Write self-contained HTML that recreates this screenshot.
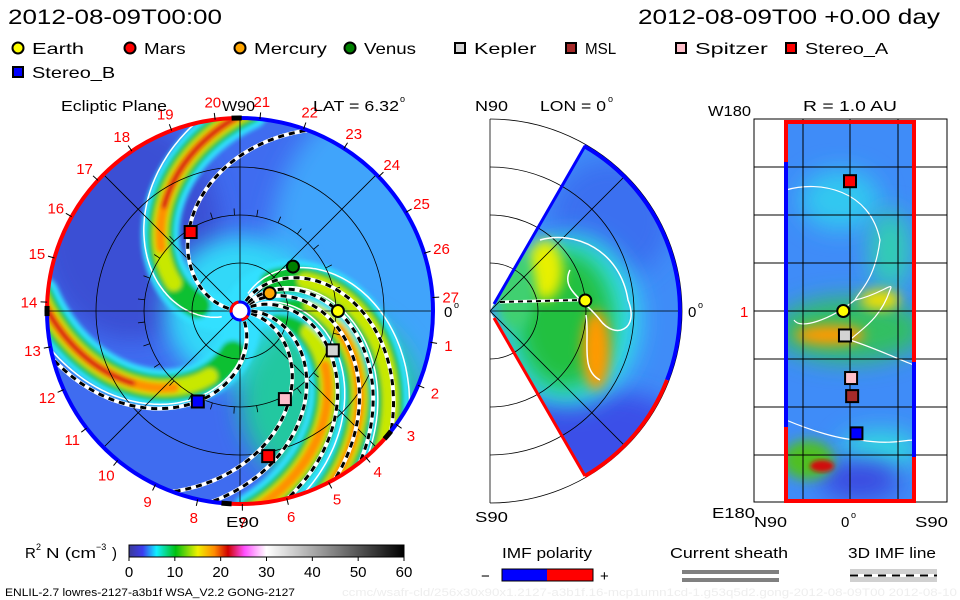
<!DOCTYPE html>
<html><head><meta charset="utf-8">
<style>
html,body{margin:0;padding:0;background:#fff;}
svg{display:block;font-family:"Liberation Sans",sans-serif;}
</style></head>
<body>
<svg id="root" width="960" height="600" viewBox="0 0 960 600" xmlns="http://www.w3.org/2000/svg">
<defs>
  <clipPath id="discClip"><circle cx="240" cy="311" r="192"/></clipPath>
  <clipPath id="wedgeClip"><path d="M490,311 L585,146.5 A190,190 0 0 1 585,475.5 Z"/></clipPath>
  <clipPath id="rectClip"><rect x="786" y="122" width="128" height="379"/></clipPath>
  <filter id="blur2" x="-20%" y="-20%" width="140%" height="140%"><feGaussianBlur stdDeviation="2"/></filter>
  <filter id="blur6" x="-50%" y="-50%" width="200%" height="200%"><feGaussianBlur stdDeviation="6"/></filter>
  <filter id="blur12" x="-50%" y="-50%" width="200%" height="200%"><feGaussianBlur stdDeviation="12"/></filter>
  <linearGradient id="cmap" x1="0" x2="1" y1="0" y2="0">
    <stop offset="0" stop-color="#3a3a98"/>
    <stop offset="0.05" stop-color="#3c3cf0"/>
    <stop offset="0.1" stop-color="#10f0ff"/>
    <stop offset="0.17" stop-color="#00c010"/>
    <stop offset="0.25" stop-color="#f0f000"/>
    <stop offset="0.31" stop-color="#ff8c00"/>
    <stop offset="0.36" stop-color="#d00000"/>
    <stop offset="0.42" stop-color="#ff50ff"/>
    <stop offset="0.47" stop-color="#ffc0ff"/>
    <stop offset="0.5" stop-color="#ffffff"/>
    <stop offset="1" stop-color="#000000"/>
  </linearGradient>
</defs>
<g id="left-panel"></g>
<g id="mid-panel"></g>
<g id="right-panel"></g>
<g id="texts"></g>
</svg>
<script>
// ---- data ----
const planetNames = ["Earth","Mars","Mercury","Venus","Kepler","MSL","Spitzer","Stereo_A","Stereo_B"];
const planetR     = [1.02, 1.54, 0.36, 0.72, 1.05, 1.54, 1.03, 0.97, 1.04];
const planetLon   = [0, -79, 31, 40, -23, -80, -63, 122, -115];
const planetLat   = [6.3, 0, 0, 0, 4.7, -2, -1, 0, -6];
const planetColor = ["#ffff00","#ff0000","#ffa500","#008000","#d3d3d3","#a52a2a","#ffc0cb","#ff0000","#0000ff"];
const planetShape = ["c","s","c","c","s","s","s","s","s"];
const legendShape = ["c","c","c","c","s","s","s","s","s"];
const bandEdge    = [92, 180, 278, 300, 320];
const bandPeak    = [4, 4, 3, 3, 2];
const imfEdge     = [70, 195, 250, 262, 285, 300, 309, 322];
const cbarTicks   = [0, 10, 20, 30, 40, 50, 60];
const dayLabels   = [1,2,3,4,5,6,7,8,9,10,11,12,13,14,15,16,17,18,19,20,21,22,23,24,25,26,27];

const NS="http://www.w3.org/2000/svg";
function mk(tag, attrs, parent){const e=document.createElementNS(NS,tag);for(const k in attrs)e.setAttribute(k,attrs[k]);if(parent)parent.appendChild(e);return e;}
function txt(parent,x,y,s,size,fill,anchor,len){const t=mk("text",{x:x,y:y,"font-size":size,fill:fill||"#000","text-anchor":anchor||"start"},parent);if(len){t.setAttribute("textLength",len);t.setAttribute("lengthAdjust","spacingAndGlyphs");}t.textContent=s;return t;}

// ---- left panel: ecliptic ----
const CX=240, CY=311, PX=96, K=52;
function lx(r,deg){return CX + r*PX*Math.cos(deg*Math.PI/180);}
function ly(r,deg){return CY - r*PX*Math.sin(deg*Math.PI/180);}
function spiral(edge,r1,r2){let d="";for(let r=r1;r<=r2+1e-6;r+=0.02){const p=edge+K*(2-r);d+=(d?"L":"M")+lx(r,p).toFixed(1)+","+ly(r,p).toFixed(1);}return d;}

const L=document.getElementById("left-panel");
const disc=mk("g",{"clip-path":"url(#discClip)"},L);


mk("circle",{cx:CX,cy:CY,r:192,fill:"#3f6cf0"},disc);
mk("ellipse",{cx:380,cy:250,rx:110,ry:150,fill:"#40a4fb",filter:"url(#blur12)"},disc);
mk("ellipse",{cx:130,cy:230,rx:90,ry:110,fill:"#3a4fd4",filter:"url(#blur12)"},disc);
mk("circle",{cx:CX,cy:CY,r:75,fill:"#30d8f8",filter:"url(#blur12)"},disc);
mk("ellipse",{cx:330,cy:400,rx:90,ry:90,fill:"#20c8a0",filter:"url(#blur12)"},disc);
const bandG=mk("g",{filter:"url(#blur2)",fill:"none","stroke-linecap":"round"},disc);
const layerCol=["#30e0ff","#10c030","#c8e800","#ff9000","#d81010"];
const layerW=[38,26,16,10,6];
bandEdge.forEach((e,i)=>{
  for(let l=0;l<=bandPeak[i];l++){
    const r1=0.15+l*0.3, r2=2.1;
    const p=mk("path",{d:spiral(e,r1,r2),stroke:layerCol[l],"stroke-width":layerW[l]},bandG);
    
    
  }
});
// white contour lines
bandEdge.forEach((e,i)=>{
  const p=mk("path",{d:spiral(e+12,0.2,2.05),stroke:"#fff","stroke-width":1.5,fill:"none"},disc);
  
  
});
// grid
const grid=mk("g",{stroke:"#000","stroke-width":0.8,fill:"none"},disc);
[0.5,1,1.5].forEach(r=>mk("circle",{cx:CX,cy:CY,r:r*PX},grid));
[0,45,90,135].forEach(a=>mk("line",{x1:lx(2.1,a),y1:ly(2.1,a),x2:lx(2.1,a+180),y2:ly(2.1,a+180)},grid));
for(let a=0;a<360;a+=13.33){mk("line",{x1:lx(1,a),y1:ly(1,a),x2:lx(1.07,a),y2:ly(1.07,a)},grid);}
// IMF dashed lines
imfEdge.forEach(e=>{
  const d=spiral(e,0.12,2.05);
  const w=mk("path",{d:d,stroke:"#fff","stroke-width":4,fill:"none"},disc);
  
  
  mk("path",{d:d,stroke:"#000","stroke-width":3,"stroke-dasharray":"6,5",fill:"none"},disc);
});
// polarity ring
function arc(r,a1,a2){const x1=CX+r*Math.cos(a1*Math.PI/180),y1=CY-r*Math.sin(a1*Math.PI/180),x2=CX+r*Math.cos(a2*Math.PI/180),y2=CY-r*Math.sin(a2*Math.PI/180);const large=(a2-a1)>180?1:0;return `M${x1},${y1} A${r},${r} 0 ${large} 0 ${x2},${y2}`;}
const ring=[[91,180,"#ff0000"],[180,266,"#0000ff"],[266,320,"#ff0000"],[320,451,"#0000ff"]];
ring.forEach(s=>{const p=mk("path",{d:arc(193,s[0],s[1]),stroke:s[2],"stroke-width":4,fill:"none"},L);
  });
[[91,1],[180,1],[266,1],[320,1]].forEach(s=>mk("path",{d:arc(193,s[0]-1.5,s[0]+1.5),stroke:"#000","stroke-width":5,fill:"none"},L));
// sun
mk("circle",{cx:CX,cy:CY,r:9,fill:"#fff",stroke:"#0000ff","stroke-width":3},L);
mk("path",{d:arc(9,100,190),stroke:"#ff0000","stroke-width":3,fill:"none"},L);
mk("path",{d:arc(9,280,330),stroke:"#ff0000","stroke-width":3,fill:"none"},L);
// day labels
dayLabels.forEach(d=>{
  const a=4-13.33*(d%27===0?0:d);
  const t=txt(L,lx(2.2,a),ly(2.2,a)+6,String(d),15,"#ff0000","middle");
  
  mk("line",{x1:lx(2.01,a),y1:ly(2.01,a),x2:lx(2.08,a),y2:ly(2.08,a),stroke:"#000","stroke-width":1},L);
});
// markers
function marker(parent,shape,x,y,col,name){
  let m;
  if(shape==="c") m=mk("circle",{cx:x,cy:y,r:6,fill:col,stroke:"#000","stroke-width":2},parent);
  else m=mk("rect",{x:x-6,y:y-6,width:12,height:12,fill:col,stroke:"#000","stroke-width":2},parent);
  
  
  return m;
}
planetNames.forEach((n,i)=>{ if(n==="MSL")return; marker(L,planetShape[i],lx(planetR[i],planetLon[i]),ly(planetR[i],planetLon[i]),planetColor[i],n.toLowerCase()+"-marker");});

// ---- middle panel ----
const M=document.getElementById("mid-panel");
const MX=490, MY=311;
const mg=mk("g",{fill:"none",stroke:"#000","stroke-width":0.8},M);
[48,96,144,192].forEach(r=>mk("path",{d:`M${MX},${MY-r} A${r},${r} 0 0 1 ${MX},${MY+r}`},mg));
mk("line",{x1:MX,y1:119,x2:MX,y2:503},mg);
const wedge=mk("g",{"clip-path":"url(#wedgeClip)"},M);


mk("rect",{x:490,y:140,width:200,height:340,fill:"#3f8cf8"},wedge);
mk("ellipse",{cx:610,cy:220,rx:60,ry:60,fill:"#3a70f0",filter:"url(#blur12)"},wedge);
mk("ellipse",{cx:600,cy:440,rx:90,ry:50,fill:"#3a50e8",filter:"url(#blur12)"},wedge);
mk("ellipse",{cx:570,cy:320,rx:70,ry:85,fill:"#30e0f0",filter:"url(#blur12)"},wedge);
mk("ellipse",{cx:565,cy:320,rx:50,ry:70,fill:"#20c040",filter:"url(#blur12)"},wedge);
mk("ellipse",{cx:545,cy:270,rx:18,ry:30,fill:"#e8f000",filter:"url(#blur6)"},wedge);
mk("ellipse",{cx:596,cy:350,rx:14,ry:40,fill:"#ff9a00",filter:"url(#blur6)"},wedge);
mk("ellipse",{cx:515,cy:290,rx:20,ry:40,fill:"#40d070",filter:"url(#blur6)"},wedge);
const mgrid=mk("g",{fill:"none",stroke:"#000","stroke-width":0.8},wedge);
[48,96,144].forEach(r=>mk("path",{d:`M${MX},${MY-r} A${r},${r} 0 0 1 ${MX},${MY+r}`},mgrid));
mk("line",{x1:MX,y1:MY,x2:690,y2:MY},mgrid);
mk("line",{x1:MX,y1:MY,x2:MX+200,y2:MY-200},mgrid);
mk("line",{x1:MX,y1:MY,x2:MX+200,y2:MY+200},mgrid);
mk("path",{d:"M540,240 C575,230 620,250 628,300 C640,330 615,340 600,320 C585,300 560,290 570,270",fill:"none",stroke:"#fff","stroke-width":1.5},wedge);
mk("path",{d:"M586,315 C590,340 580,370 600,380",fill:"none",stroke:"#fff","stroke-width":1.5},wedge);
mk("path",{d:"M500,302 L580,300",stroke:"#fff","stroke-width":3},M);
mk("path",{d:"M500,302 L580,300",stroke:"#000","stroke-width":2,"stroke-dasharray":"5,4"},M);
mk("path",{d:"M584,146 A190,190 0 0 1 667,380",fill:"none",stroke:"#0000ff","stroke-width":4},M);
mk("path",{d:"M667,380 A190,190 0 0 1 585,476",fill:"none",stroke:"#ff0000","stroke-width":4},M);
mk("path",{d:"M585,146 L494,304",fill:"none",stroke:"#0000ff","stroke-width":3},M);
mk("path",{d:"M494,318 L585,476",fill:"none",stroke:"#ff0000","stroke-width":3},M);
marker(M,"c",MX+planetR[0]*94*Math.cos(planetLat[0]*Math.PI/180),MY-planetR[0]*94*Math.sin(planetLat[0]*Math.PI/180),planetColor[0],"earth-marker-meridional");

// ---- right panel ----
const R=document.getElementById("right-panel");
function rx(lat){return 850 - lat*1.072;}
function ry(lon){return 311 - lon*1.064;}
const rect=mk("g",{"clip-path":"url(#rectClip)"},R);


mk("rect",{x:786,y:122,width:128,height:379,fill:"#3f8cf8"},rect);
mk("ellipse",{cx:840,cy:200,rx:40,ry:30,fill:"#30c8f0",filter:"url(#blur12)"},rect);
mk("ellipse",{cx:890,cy:250,rx:20,ry:40,fill:"#30d0b0",filter:"url(#blur12)"},rect);
mk("ellipse",{cx:850,cy:330,rx:75,ry:32,fill:"#30c060",filter:"url(#blur12)"},rect);
mk("ellipse",{cx:830,cy:335,rx:35,ry:10,fill:"#ff9a00",filter:"url(#blur6)"},rect);
mk("ellipse",{cx:880,cy:300,rx:20,ry:10,fill:"#f0e000",filter:"url(#blur6)"},rect);
mk("ellipse",{cx:880,cy:450,rx:40,ry:20,fill:"#30d8e0",filter:"url(#blur12)"},rect);
mk("ellipse",{cx:860,cy:480,rx:40,ry:20,fill:"#3a48e0",filter:"url(#blur12)"},rect);
mk("ellipse",{cx:808,cy:460,rx:26,ry:20,fill:"#50c020",filter:"url(#blur6)"},rect);
mk("ellipse",{cx:822,cy:466,rx:12,ry:6,fill:"#d01010",filter:"url(#blur2)"},rect);
mk("path",{d:"M786,190 C820,180 870,190 880,240 C875,280 860,290 855,300 C830,320 800,330 794,320 M855,300 C880,295 895,280 890,290 C880,320 860,330 850,340 C880,350 900,360 914,365 M786,420 C810,430 840,440 860,440 C890,445 905,440 914,440",fill:"none",stroke:"#fff","stroke-width":1.2},rect);
mk("rect",{x:754,y:119,width:193,height:383,fill:"none",stroke:"#000","stroke-width":1},R);
const rg=mk("g",{stroke:"#000","stroke-width":1},R);
[167,215,263,311,359,407,455].forEach(y=>mk("line",{x1:754,y1:y,x2:947,y2:y},rg));
[803,850,898].forEach(x=>mk("line",{x1:x,y1:119,x2:x,y2:502},rg));
mk("path",{d:"M786,162 L786,122 L914,122 L914,362",fill:"none",stroke:"#ff0000","stroke-width":4},R);
mk("path",{d:"M786,162 L786,427",fill:"none",stroke:"#0000ff","stroke-width":4},R);
mk("path",{d:"M786,427 L786,501 L914,501 L914,457",fill:"none",stroke:"#ff0000","stroke-width":4},R);
mk("path",{d:"M914,362 L914,457",fill:"none",stroke:"#0000ff","stroke-width":4},R);
planetNames.forEach((n,i)=>{ if(["Mars","Mercury","Venus"].includes(n))return; marker(R,planetShape[i],rx(planetLat[i]),ry(planetLon[i]),planetColor[i],n.toLowerCase()+"-marker-r1au");});

// ---- text & legends ----
const T=document.getElementById("texts");
txt(T,8,24,"2012-08-09T00:00",21,"#000","start",214);
txt(T,638,24,"2012-08-09T00 +0.00 day",21,"#000","start",302);
const legX=[18,130,240,350,460,571,681,791,18];
const legY=[48,48,48,48,48,48,48,48,72];
planetNames.forEach((n,i)=>{
  const g=mk("g",{},T);
  
  
  if(legendShape[i]==="c") mk("circle",{cx:legX[i],cy:legY[i],r:5.5,fill:planetColor[i],stroke:"#000","stroke-width":2},g);
  else mk("rect",{x:legX[i]-5,y:legY[i]-5,width:10,height:10,fill:planetColor[i],stroke:"#000","stroke-width":2},g);
  txt(g,legX[i]+14,legY[i]+6,n,16,"#000","start",n.length*10.4);
});
txt(T,61,111,"Ecliptic Plane",15,"#000","start",106);
txt(T,222,111,"W90",15,"#000","start",33);
txt(T,313,111,"LAT = 6.32",15,"#000","start",86);
txt(T,400,102,"o",9);
txt(T,226,527,"E90",15,"#000","start",33);
txt(T,444,317,"0",15);txt(T,454,308,"o",9);
txt(T,475,111,"N90",15,"#000","start",33);
txt(T,540,111,"LON = 0",15,"#000","start",66);txt(T,608,102,"o",9);
txt(T,475,522,"S90",15,"#000","start",33);
txt(T,688,317,"0",15);txt(T,698,308,"o",9);
txt(T,708,116,"W180",15,"#000","start",43);
txt(T,803,111,"R = 1.0 AU",15,"#000","start",94);
txt(T,740,317,"1",15,"#ff0000");
txt(T,712,518,"E180",15,"#000","start",43);
txt(T,754,527,"N90",15,"#000","start",33);
txt(T,841,527,"0",15);txt(T,851,518,"o",9);
txt(T,915,527,"S90",15,"#000","start",33);
// colorbar
txt(T,25,558,"R",15);txt(T,36,550,"2",9);txt(T,46,558,"N (cm",15,"#000","start",50);txt(T,96,550,"−3",9);txt(T,112,558,")",15);
const cb=mk("rect",{x:129,y:545,width:275,height:12,fill:"url(#cmap)",stroke:"#000","stroke-width":1},T);

cbarTicks.forEach(v=>{const x=129+v/60*275;mk("line",{x1:x,y1:557,x2:x,y2:561,stroke:"#000"},T);txt(T,x,577,String(v),15,"#000","middle");});
txt(T,5,596,"ENLIL-2.7 lowres-2127-a3b1f WSA_V2.2 GONG-2127",11,"#000","start",290);
txt(T,342,596,"ccmc/wsafr-cld/256x30x90x1.2127-a3b1f.16-mcp1umn1cd-1.g53q5d2.gong-2012-08-09T00    2012-08-10",11,"#eee","start",615);
// IMF polarity legend
txt(T,502,558,"IMF polarity",15,"#000","start",90);
txt(T,481,581,"−",15);txt(T,600,581,"+",15);
mk("rect",{x:502,y:569,width:45,height:12,fill:"#0000ff"},T);
mk("rect",{x:547,y:569,width:46,height:12,fill:"#ff0000"},T);
mk("rect",{x:502,y:569,width:91,height:12,fill:"none",stroke:"#000","stroke-width":1},T);
txt(T,670,558,"Current sheath",15,"#000","start",118);
mk("rect",{x:682,y:570,width:97,height:4,fill:"#808080"},T);
mk("rect",{x:682,y:578,width:97,height:4,fill:"#808080"},T);
txt(T,848,558,"3D IMF line",15,"#000","start",88);
mk("rect",{x:850,y:569,width:87,height:13,fill:"#d0d0d0"},T);
mk("line",{x1:850,y1:575.5,x2:937,y2:575.5,stroke:"#fff","stroke-width":3},T);
mk("line",{x1:850,y1:575.5,x2:937,y2:575.5,stroke:"#000","stroke-width":2,"stroke-dasharray":"8,6"},T);
</script>
</body></html>
